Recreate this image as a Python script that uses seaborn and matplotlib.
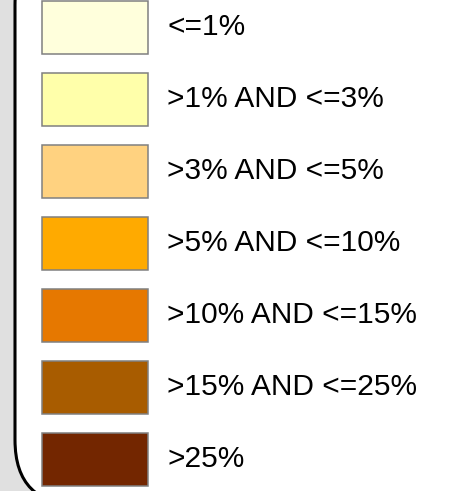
import matplotlib
matplotlib.use("Agg")
import matplotlib.pyplot as plt
import seaborn as sns
import pandas as pd
from matplotlib.patches import FancyBboxPatch

# legend classes and their fill colours
labels = ["<=1%", ">1% AND <=3%", ">3% AND <=5%", ">5% AND <=10%",
          ">10% AND <=15%", ">15% AND <=25%", ">25%"]
colors = ["#FFFFDC", "#FFFFAA", "#FFD280", "#FFAA00",
          "#E67800", "#A85C00", "#732600"]

df = pd.DataFrame({"label": labels, "value": [1] * len(labels)})

W, H = 449, 491
fig = plt.figure(figsize=(W / 100, H / 100), dpi=100)
fig.patch.set_facecolor("#E0E0E0")

# background frame in pixel coordinates
bg = fig.add_axes([0, 0, 1, 1])
bg.set_xlim(0, W)
bg.set_ylim(H, 0)
bg.axis("off")
frame = FancyBboxPatch((15, -60), 520, 565,
                       boxstyle="round,pad=0,rounding_size=65",
                       facecolor="white", edgecolor="black", linewidth=2.2)
bg.add_patch(frame)

# swatches
ax = fig.add_axes([0, 0, 1, 1])
ax.patch.set_alpha(0)
sns.barplot(data=df, x="value", y="label", hue="label", palette=colors,
            saturation=1, orient="h", width=53 / 72, edgecolor="#808080",
            linewidth=1.1, legend=False, ax=ax)
ax.set_xlim(-42 / 106, (W - 42) / 106)
ax.set_ylim(6 + (H - 459) / 72, -27 / 72)
ax.axis("off")

for i, lab in enumerate(labels):
    ax.text(1 + 19 / 106, i, lab, va="center", ha="left",
            fontsize=21.5, family="Liberation Sans", color="black")

fig.savefig("out.png", dpi=100)
